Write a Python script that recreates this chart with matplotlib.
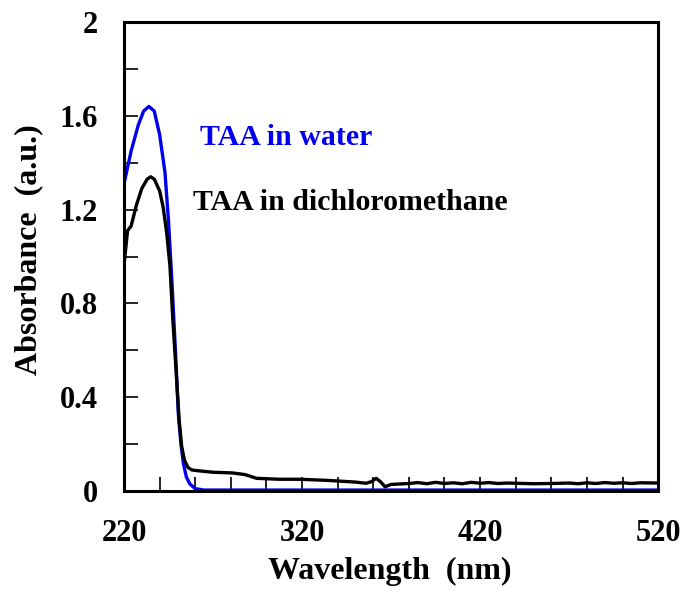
import matplotlib.pyplot as plt
from matplotlib.ticker import MultipleLocator, FormatStrFormatter

# TAA in water (blue)
wl_water = [220, 224, 228, 231, 234, 237, 240, 243, 245, 247, 249, 250.5, 252, 253.3, 255, 257, 260, 265, 280, 320, 360, 400, 450, 500, 520]
abs_water = [1.31, 1.45, 1.56, 1.62, 1.64, 1.62, 1.52, 1.36, 1.15, 0.88, 0.58, 0.33, 0.2, 0.12, 0.06, 0.03, 0.01, 0.004, 0.004, 0.004, 0.004, 0.004, 0.004, 0.004, 0.004]

# TAA in dichloromethane (black)
wl_dcm = [220, 220.5, 222, 224, 227, 230, 233, 235, 237, 240, 242, 244, 245.8, 247.5, 249.6, 251, 252.4, 254, 256, 258, 260.8, 270, 281, 288, 294.5, 307.6, 318.9, 335, 350, 356, 359, 361.6, 364, 366.6, 370, 375,
          380, 385, 390, 395, 400, 405, 410, 415, 420, 425, 430, 435, 440, 450, 460, 470, 475, 480, 485, 490, 495, 500, 505, 510, 520]
abs_dcm = [0.96, 1.0, 1.11, 1.13, 1.22, 1.29, 1.33, 1.34, 1.33, 1.28, 1.21, 1.1, 0.96, 0.72, 0.47, 0.3, 0.19, 0.13, 0.1, 0.09, 0.087, 0.08, 0.077, 0.07, 0.054, 0.05, 0.05, 0.045, 0.038, 0.033, 0.04, 0.054, 0.04, 0.018, 0.028, 0.03,
           0.032, 0.036, 0.031, 0.037, 0.032, 0.035, 0.031, 0.037, 0.033, 0.036, 0.032, 0.034, 0.033, 0.031, 0.032, 0.034, 0.031, 0.035, 0.032, 0.036, 0.033, 0.035, 0.032, 0.035, 0.034]

x_ticks = [220, 320, 420, 520]
y_ticks = [0, 0.4, 0.8, 1.2, 1.6, 2]

plt.rcParams["font.family"] = ["Liberation Serif", "DejaVu Serif"]
plt.rcParams["font.weight"] = "bold"

fig = plt.figure(figsize=(6.87, 5.92), dpi=100)
ax = fig.add_axes([0.1805, 0.1706, 0.7775, 0.7922])

ax.plot(wl_water, abs_water, color="#0000ee", lw=2.4)
ax.plot(wl_dcm, abs_dcm, color="black", lw=2.4)

ax.set_xlim(220, 520)
ax.set_ylim(0, 2)
ax.set_xticks(x_ticks)
ax.set_yticks(y_ticks)
ax.xaxis.set_minor_locator(MultipleLocator(20))
ax.yaxis.set_minor_locator(MultipleLocator(0.2))
ax.yaxis.set_major_formatter(FormatStrFormatter("%g"))
ax.tick_params(which="both", direction="in", top=False, right=False, width=1.2)
ax.tick_params(which="major", length=10, labelsize=22)
ax.tick_params(axis="x", which="major", pad=20)
ax.tick_params(axis="y", which="major", pad=19)
ax.tick_params(which="minor", length=10)
for s in ax.spines.values():
    s.set_linewidth(2.2)

ax.set_xlabel("Wavelength  (nm)", fontsize=23, fontweight="bold")
ax.set_ylabel("Absorbance  (a.u.)", fontsize=23, fontweight="bold")
ax.xaxis.set_label_coords(0.498, -0.141)
ax.yaxis.set_label_coords(-0.152, 0.514)

ax.text(0.142, 0.738, "TAA in water", transform=ax.transAxes, color="#0000ee",
        fontsize=21.5, fontweight="bold", va="baseline")
ax.text(0.129, 0.599, "TAA in dichloromethane", transform=ax.transAxes, color="black",
        fontsize=21.5, fontweight="bold", va="baseline")

fig.savefig("out.png", dpi=100)
